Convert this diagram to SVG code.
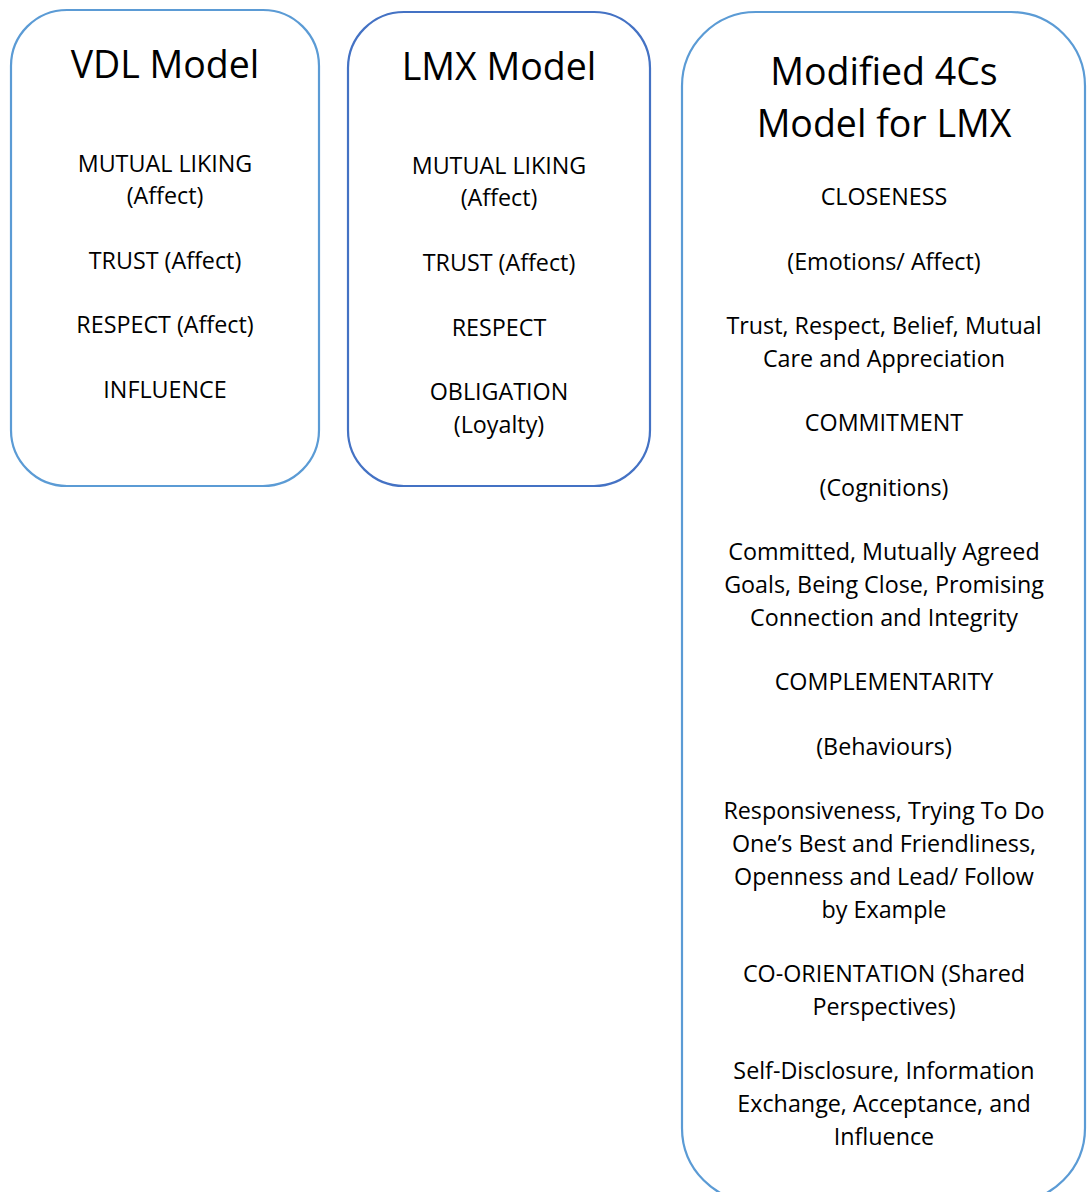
<svg xmlns="http://www.w3.org/2000/svg" width="1088" height="1192" viewBox="0 0 1088 1192">
<style>
.box{fill:#fff;stroke-width:2.2}
.t{font-family:"Open Sans","Lato",sans-serif;font-size:23.3px;fill:#000;text-anchor:middle}
.h{font-family:"Open Sans","Lato",sans-serif;font-size:37.5px;fill:#000;text-anchor:middle}
</style>
<rect width="1088" height="1192" fill="#fff"/>
<g id="vdl">
<rect class="box" x="11" y="10" width="308" height="476" rx="56" stroke="#5B9BD5"/>
<text class="h" x="165" y="78">VDL Model</text>
<text class="t" x="165" y="172">MUTUAL LIKING</text>
<text class="t" x="165" y="204">(Affect)</text>
<text class="t" x="165" y="269">TRUST (Affect)</text>
<text class="t" x="165" y="333">RESPECT (Affect)</text>
<text class="t" x="165" y="398">INFLUENCE</text>
</g>
<g id="lmx">
<rect class="box" x="348" y="12" width="302" height="474" rx="56" stroke="#4472C4"/>
<text class="h" x="499" y="80">LMX Model</text>
<text class="t" x="499" y="174">MUTUAL LIKING</text>
<text class="t" x="499" y="206">(Affect)</text>
<text class="t" x="499" y="271">TRUST (Affect)</text>
<text class="t" x="499" y="336">RESPECT</text>
<text class="t" x="499" y="400">OBLIGATION</text>
<text class="t" x="499" y="433">(Loyalty)</text>
</g>
<g id="fourcs">
<rect class="box" x="682" y="12" width="403" height="1190" rx="74" stroke="#5B9BD5"/>
<text class="h" x="884" y="85">Modified 4Cs</text>
<text class="h" x="884" y="137">Model for LMX</text>
<text class="t" x="884" y="205">CLOSENESS</text>
<text class="t" x="884" y="270">(Emotions/ Affect)</text>
<text class="t" x="884" y="334">Trust, Respect, Belief, Mutual</text>
<text class="t" x="884" y="367">Care and Appreciation</text>
<text class="t" x="884" y="431">COMMITMENT</text>
<text class="t" x="884" y="496">(Cognitions)</text>
<text class="t" x="884" y="560">Committed, Mutually Agreed</text>
<text class="t" x="884" y="593">Goals, Being Close, Promising</text>
<text class="t" x="884" y="626">Connection and Integrity</text>
<text class="t" x="884" y="690">COMPLEMENTARITY</text>
<text class="t" x="884" y="755">(Behaviours)</text>
<text class="t" x="884" y="819">Responsiveness, Trying To Do</text>
<text class="t" x="884" y="852">One’s Best and Friendliness,</text>
<text class="t" x="884" y="885">Openness and Lead/ Follow</text>
<text class="t" x="884" y="918">by Example</text>
<text class="t" x="884" y="982">CO-ORIENTATION (Shared</text>
<text class="t" x="884" y="1015">Perspectives)</text>
<text class="t" x="884" y="1079">Self-Disclosure, Information</text>
<text class="t" x="884" y="1112">Exchange, Acceptance, and</text>
<text class="t" x="884" y="1145">Influence</text>
</g>
<g id="connectors"/>
</svg>
